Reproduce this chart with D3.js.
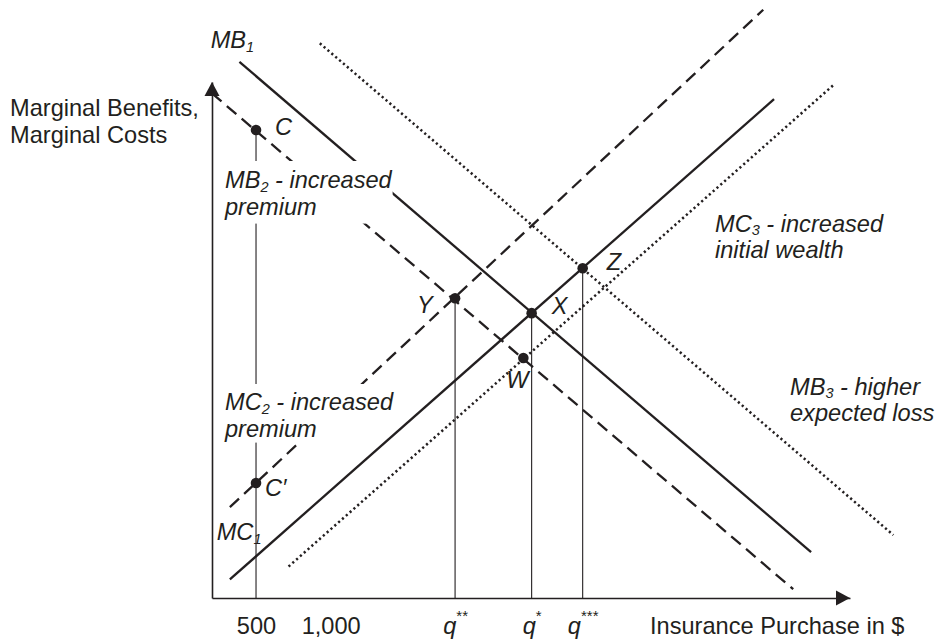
<!DOCTYPE html>
<html>
<head>
<meta charset="utf-8">
<script src="https://cdn.jsdelivr.net/npm/d3@7"></script>
<style>
body { margin: 0; background: #fff; }
text { font-family: "Liberation Sans", Arial, Helvetica, sans-serif; fill: #231f20; }
</style>
</head>
<body>
<div id="chart"></div>
<script>
// curves, in chart units (0-100 on both axes)
var curveNames = ["MB1", "MC1", "MB2", "MC2", "MB3", "MC3"];
var curveX0 = [4.3, 2.8, 0.0, 2.8, 16.9, 12.0];
var curveY0 = [103.9, 3.6, 97.8, 17.6, 107.5, 6.1];
var curveX1 = [93.9, 88.1, 91.1, 86.4, 106.8, 97.4];
var curveY1 = [8.9, 96.7, 1.7, 114.0, 12.2, 99.4];

// marked points
var pointNames = ["C", "C'", "Y", "X", "Z", "W"];
var pointX = [6.9, 6.9, 38.1, 50.1, 58.1, 48.8];
var pointY = [90.7, 22.3, 58.1, 55.2, 63.9, 46.5];

// points that get a drop line to the quantity axis
var dropPoints = ["C", "Y", "X", "Z"];

// quantity axis labels
var tickValues = [6.9, 18.6, 38.1, 50.1, 58.1];
var tickLabels = ["500", "1,000", "q", "q", "q"];
var tickStars = ["", "", "**", "*", "***"];

var width = 946, height = 641;
var ink = "#231f20";
var fs = 23.6;

var svg = d3.select("#chart").append("svg")
    .attr("width", width)
    .attr("height", height);

var x = d3.scaleLinear().domain([0, 100]).range([212, 850]);
var y = d3.scaleLinear().domain([0, 100]).range([598, 82]);

var dash = { solid: null, dashed: "12.5,7", dotted: "2.2,2.9" };
var curveStyle = { MB1: "solid", MC1: "solid", MB2: "dashed", MC2: "dashed", MB3: "dotted", MC3: "dotted" };

// curves
svg.append("g").selectAll("line")
    .data(curveNames)
    .enter().append("line")
    .attr("x1", function (d, i) { return x(curveX0[i]); })
    .attr("y1", function (d, i) { return y(curveY0[i]); })
    .attr("x2", function (d, i) { return x(curveX1[i]); })
    .attr("y2", function (d, i) { return y(curveY1[i]); })
    .attr("stroke", ink)
    .attr("stroke-width", function (d) { return curveStyle[d] == "dotted" ? 2.5 : 2.3; })
    .attr("stroke-dasharray", function (d) { return dash[curveStyle[d]]; });

// drop lines
svg.append("g").selectAll("line")
    .data(dropPoints)
    .enter().append("line")
    .attr("x1", function (d) { return x(pointX[pointNames.indexOf(d)]); })
    .attr("x2", function (d) { return x(pointX[pointNames.indexOf(d)]); })
    .attr("y1", function (d) { return y(pointY[pointNames.indexOf(d)]); })
    .attr("y2", y(0))
    .attr("stroke", ink)
    .attr("stroke-width", 1.1);

// axes
var xAxis = d3.axisBottom(x)
    .tickValues(tickValues)
    .tickSize(0)
    .tickSizeOuter(0)
    .tickPadding(0)
    .tickFormat(function () { return ""; });

var gx = svg.append("g")
    .attr("transform", "translate(0," + y(0) + ")")
    .call(xAxis);
gx.select(".domain").attr("stroke", ink).attr("stroke-width", 1.6);
gx.selectAll(".tick text").each(function (d, i) {
    var t = d3.select(this)
        .attr("y", 36)
        .attr("dy", null)
        .attr("font-size", fs)
        .attr("font-family", "'Liberation Sans', Arial, sans-serif")
        .attr("fill", ink);
    t.append("tspan")
        .attr("font-style", tickStars[i] ? "italic" : null)
        .text(tickLabels[i]);
    if (tickStars[i]) {
        t.append("tspan")
            .attr("font-size", 15)
            .attr("dy", -13)
            .text(tickStars[i]);
    }
});

var gy = svg.append("g")
    .attr("transform", "translate(" + x(0) + ",0)")
    .call(d3.axisLeft(y).tickValues([]).tickSizeOuter(0));
gy.select(".domain").attr("stroke", ink).attr("stroke-width", 1.6);

// arrow heads
svg.append("path")
    .attr("d", "M" + x(100) + "," + y(0) + "l-14,-7.5v15z")
    .attr("fill", ink);
svg.append("path")
    .attr("d", "M" + x(0) + "," + y(100) + "l-7.5,14h15z")
    .attr("fill", ink);

// axis titles
var ytitle = svg.append("text").attr("font-size", fs);
ytitle.append("tspan").attr("x", 10).attr("y", 115.7).text("Marginal Benefits,");
ytitle.append("tspan").attr("x", 10).attr("y", 143.3).text("Marginal Costs");

svg.append("text")
    .attr("x", 650)
    .attr("y", 634.3)
    .attr("font-size", fs)
    .text("Insurance Purchase in $");

// curve labels (italic, subscripted); box = white knock-out [left, top, right, bottom] padding
function curveLabel(px, py, main, sub, rest, box) {
    var g = svg.append("g");
    var t = g.append("text")
        .attr("font-size", fs)
        .attr("font-style", "italic");
    var l1 = t.append("tspan").attr("x", px).attr("y", py);
    l1.append("tspan").text(main);
    l1.append("tspan").attr("font-size", 14.5).attr("dy", 3.5).text(sub);
    if (rest[0]) {
        t.append("tspan").attr("dy", -3.5).text(" " + rest[0]);
    }
    if (rest[1]) {
        t.append("tspan").attr("x", px).attr("y", py + 26.6).text(rest[1]);
    }
    if (box) {
        var b = t.node().getBBox();
        g.insert("rect", "text")
            .attr("x", b.x - box[0])
            .attr("y", b.y - box[1])
            .attr("width", b.width + box[0] + box[2])
            .attr("height", b.height + box[1] + box[3])
            .attr("fill", "#fff");
    }
}

curveLabel(210.7, 48.3, "MB", "1", [], null);
curveLabel(225, 188, "MB", "2", ["- increased", "premium"], [3, 6, 0, 4]);
curveLabel(225, 410, "MC", "2", ["- increased", "premium"], [3, 5, -12, 1]);
curveLabel(216.7, 540, "MC", "1", [], null);
curveLabel(715, 231.7, "MC", "3", ["- increased", "initial wealth"], null);
curveLabel(790, 394.5, "MB", "3", ["- higher", "expected loss"], null);

// points
svg.append("g").selectAll("circle")
    .data(pointNames)
    .enter().append("circle")
    .attr("cx", function (d, i) { return x(pointX[i]); })
    .attr("cy", function (d, i) { return y(pointY[i]); })
    .attr("r", 5.3)
    .attr("fill", ink);

// point labels, offset from the dot
var labelOffset = {
    "C": [19, 5], "C'": [9, 13], "Y": [-38, 15], "X": [20, 1], "Z": [24, 2], "W": [-17, 30]
};
svg.append("g").selectAll("text")
    .data(pointNames)
    .enter().append("text")
    .attr("x", function (d, i) { return x(pointX[i]) + labelOffset[d][0]; })
    .attr("y", function (d, i) { return y(pointY[i]) + labelOffset[d][1]; })
    .attr("font-size", fs)
    .attr("font-style", "italic")
    .text(function (d) { return d == "C'" ? "C\u2032" : d; });
</script>
</body>
</html>
